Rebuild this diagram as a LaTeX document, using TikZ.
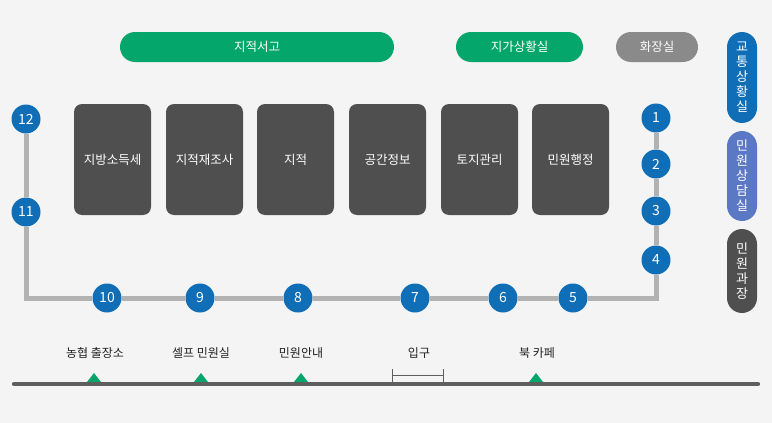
\documentclass[tikz,border=0pt]{standalone}
\usepackage{fontspec}
\setmainfont{Noto Sans CJK KR}
\usetikzlibrary{positioning}
\definecolor{floorbg}{HTML}{F4F4F4}
\definecolor{roomgreen}{HTML}{05A66B}
\definecolor{roomgray}{HTML}{8A8A8A}
\definecolor{roomdark}{HTML}{4F4F4F}
\definecolor{stopblue}{HTML}{106EB7}
\definecolor{roomviolet}{HTML}{5B78C4}
\definecolor{routeline}{HTML}{B2B2B2}
\definecolor{wallline}{HTML}{5E5E5E}
\definecolor{labeltext}{HTML}{222222}

\begin{document}
\begin{tikzpicture}[x=1pt,y=-1pt,
  pill/.style={rounded corners=15pt,minimum height=30pt,inner sep=0pt,text=white,font=\fontsize{12.5}{14}\selectfont},
  vpill/.style={rounded corners=15pt,minimum width=30pt,inner sep=0pt,text=white,align=center,font=\fontsize{13}{15}\selectfont},
  desk/.style={fill=roomdark,rounded corners=8pt,minimum width=77pt,minimum height=111pt,inner sep=0pt,outer sep=0pt,text=white,font=\fontsize{12.5}{14}\selectfont},
  stop/.style={circle,fill=stopblue,minimum size=29pt,inner sep=0pt,text=white,font=\fontsize{14}{14}\selectfont},
  route/.style={routeline,line width=5pt},
  floortext/.style={text=labeltext,font=\fontsize{12}{14}\selectfont}]
\fill[floorbg] (0,0) rectangle (772,423);
\node[pill,fill=roomgreen,minimum width=274pt] (seogo) at (257,47) {지적서고};
\node[pill,fill=roomgreen,minimum width=127pt] (jiga) at (519.5,47) {지가상황실};
\node[pill,fill=roomgray,minimum width=82pt] (toilet) at (657,47) {화장실};
\node[vpill,fill=stopblue,minimum height=91pt] (traffic) at (742,77.5) {교\\통\\상\\황\\실};
\node[vpill,fill=roomviolet,minimum height=90pt] (consult) at (742,176) {민\\원\\상\\담\\실};
\node[vpill,fill=roomdark,minimum height=84pt] (chief) at (742,271) {민\\원\\과\\장};
\node[desk] (d1) at (112.5,159.5) {지방소득세};
\node[desk,right=15pt of d1] (d2) {지적재조사};
\node[desk,right=14pt of d2] (d3) {지적};
\node[desk,right=15pt of d3] (d4) {공간정보};
\node[desk,right=15pt of d4] (d5) {토지관리};
\node[desk,right=14pt of d5] (d6) {민원행정};
\node[stop] (s1) at (656,118) {1};
\node[stop] (s2) at (656,164) {2};
\node[stop] (s3) at (656,211) {3};
\node[stop] (s4) at (656,260) {4};
\node[stop] (s5) at (573,298) {5};
\node[stop] (s6) at (503,298) {6};
\node[stop] (s7) at (415,298) {7};
\node[stop] (s8) at (298,298) {8};
\node[stop] (s9) at (200,298) {9};
\node[stop] (s10) at (107,298) {10};
\node[stop] (s11) at (26,212) {11};
\node[stop] (s12) at (26,119) {12};
\draw[route] (s12) -- (s11) |- (s10) -- (s9) -- (s8) -- (s7) -- (s6) -- (s5) -| (s4) -- (s3) -- (s2) -- (s1);
\node[floortext] (nh) at (95,353) {농협 출장소};
\node[floortext] (self) at (201,353) {셀프 민원실};
\node[floortext] (info) at (301,353) {민원안내};
\node[floortext] (gate) at (419,353) {입구};
\node[floortext] (cafe) at (537,353) {북 카페};
\fill[roomgreen] (87,382) -- (94,373) -- (101,382) -- cycle
  (194,382) -- (201,373) -- (208,382) -- cycle
  (294,382) -- (301,373) -- (308,382) -- cycle
  (529,382) -- (536,373) -- (543,382) -- cycle;
\draw[wallline,line width=0.8pt] (392,369) -- (392,382) (392,375) -- (443,375) (443,369) -- (443,382);
\draw[wallline,line width=4.3pt,line cap=round] (14,384) -- (758,384);
\end{tikzpicture}
\end{document}
